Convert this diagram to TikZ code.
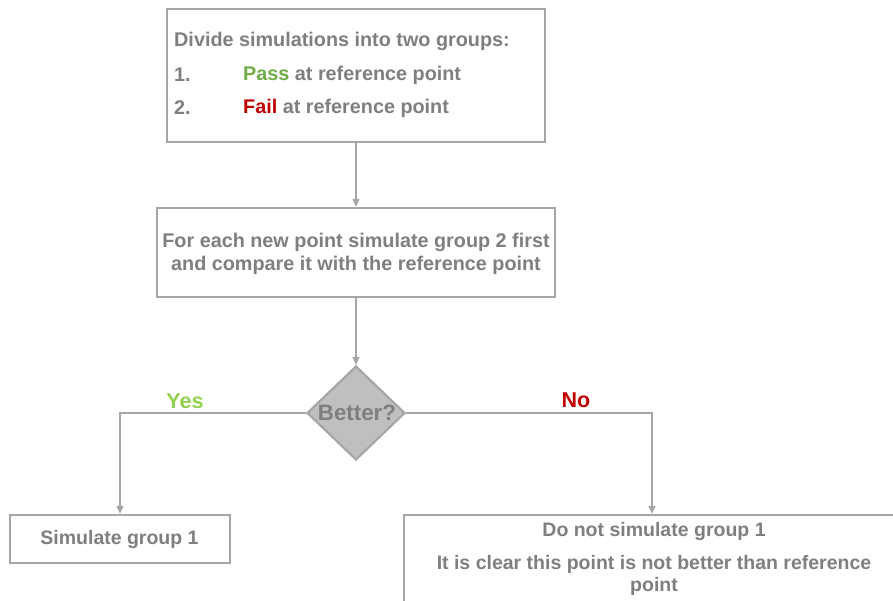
\documentclass[tikz,border=0pt]{standalone}
\usepackage{fontspec}
\setmainfont{Liberation Sans}
\usetikzlibrary{shapes.geometric,arrows.meta}
\definecolor{txtgray}{HTML}{7F7F7F}
\definecolor{linegray}{HTML}{A6A6A6}
\definecolor{passgreen}{HTML}{70AD47}
\definecolor{yesgreen}{HTML}{92D050}
\definecolor{failred}{HTML}{C00000}
\definecolor{diafill}{HTML}{BFBFBF}
\tikzset{
  boxstyle/.style={draw=linegray, line width=2.4pt, fill=white, inner sep=0pt},
  flow/.style={draw=linegray, line width=1.3pt, -{Triangle[width=7pt,length=8pt]}},
  txt/.style={text=txtgray, inner sep=0pt, font=\fontsize{19.8}{23}\selectfont\bfseries},
  lowtxt/.style={text=txtgray, inner sep=0pt, font=\fontsize{19.5}{22}\selectfont\bfseries},
  branch/.style={inner sep=1pt, font=\fontsize{21.5}{24}\selectfont\bfseries},
}
\begin{document}
\begin{tikzpicture}[x=1pt, y=-1pt]
\useasboundingbox (0,0) rectangle (893,600);
\begin{scope}
\clip (0,0) rectangle (893,600);

% boxes
\node[boxstyle, minimum width=378pt, minimum height=133pt] (groups) at (356,75.5) {};
\node[boxstyle, minimum width=398pt, minimum height=89pt] (perpoint) at (356,252.5) {};
\node[diamond, draw=linegray, line width=2.2pt, fill=diafill, minimum width=98pt, minimum height=94pt, inner sep=0pt] (better) at (356,413) {};
\node[boxstyle, minimum width=220pt, minimum height=48pt] (simone) at (120,539) {};
\node[boxstyle, minimum width=520pt, minimum height=110pt] (skip) at (664,570) {};

% texts of the first box
\node[txt, anchor=west] (l0) at (174,41) {Divide simulations into two groups:};
\node[txt, anchor=west] (n1) at (174,75) {1.};
\node[txt, anchor=west] (t1) at (243,75) {\textcolor{passgreen}{Pass} at reference point};
\node[txt, anchor=west] (n2) at (174,108) {2.};
\node[txt, anchor=west] (t2) at (243,108) {\textcolor{failred}{Fail} at reference point};

% text of the second box
\node[txt, align=center] (ptext) at (356,253.5) {For each new point simulate group 2 first\\and compare it with the reference point};

% decision text
\node[txt, font=\fontsize{22.3}{24}\selectfont\bfseries] (btext) at (357,413) {Better?};

% bottom texts
\node[lowtxt] (stext) at (119.5,539) {Simulate group 1};
\node[lowtxt] (d1) at (654,531) {Do not simulate group 1};
\node[lowtxt, align=center] (d2) at (654,575) {It is clear this point is not better than reference\\point};

% connectors
\coordinate (ycorner) at (120,413);
\coordinate (ncorner) at (652,413);
\draw[flow] (groups.south) -- (perpoint.north);
\draw[flow] (perpoint.south) -- (better.north);
\draw[flow] (better.west) -- (ycorner) -- (simone.north);
\draw[flow] (better.east) -- (ncorner) -- (ncorner |- skip.north);

% branch labels
\node[branch, fill=white, text=yesgreen] (yes) at (185,401) {Yes};
\node[branch, text=failred] (no) at (576,400) {No};
\end{scope}
\end{tikzpicture}
\end{document}
